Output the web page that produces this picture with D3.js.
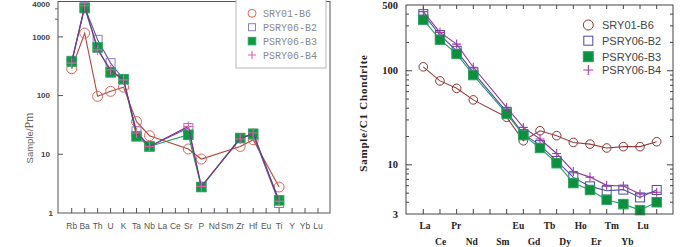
<!DOCTYPE html>
<html>
<head>
<meta charset="utf-8">
<script src="https://cdn.jsdelivr.net/npm/d3@7"></script>
<style>
  body { margin: 0; background: #fff; }
  svg { display: block; }
</style>
</head>
<body>
<div id="chart"></div>
<script>
// ---- data: spider diagram (primitive mantle normalised) ----
const spiderElements = ["Rb","Ba","Th","U","K","Ta","Nb","La","Ce","Sr","P","Nd","Sm","Zr","Hf","Eu","Ti","Y","Yb","Lu"];
const spiderB6 = [286, 1156, 97, 118, 139, 36, 20.7, null, null, 12.3, 8.3, null, null, 13.6, 17.7, null, 2.77, null, null, null];
const spiderB2 = [391, 3200, 890, 357, 190, 24.5, 13.6, null, null, 28, 2.77, null, null, 18.9, 21.5, null, 1.48, null, null, null];
const spiderB3 = [380, 3090, 660, 248, 190, 20.2, 13.6, null, null, 21.5, 2.77, null, null, 18.9, 22.4, null, 1.64, null, null, null];
const spiderB4 = [357, 3380, 600, 275, 185, 23, 13.6, null, null, 29.8, 2.84, null, null, 18.2, 23, null, 1.58, null, null, null];
const spiderTicks = [1, 10, 100, 1000, 4000];

// ---- data: REE pattern (C1 chondrite normalised) ----
const reeElements = ["La","Ce","Pr","Nd","Pm","Sm","Eu","Gd","Tb","Dy","Ho","Er","Tm","Yb","Lu"];
const reeLabels   = ["La","Ce","Pr","Nd","","Sm","Eu","Gd","Tb","Dy","Ho","Er","Tm","Yb","Lu"];
const reeB6 = [110, 78, 65, 49, null, 32, 18, 23, 20.4, 17.3, 16.6, 15.1, 15.6, 15.6, 17.6];
const reeB2 = [400, 240, 163, 96, null, 36.6, 21.2, 16.2, 11, 7.35, 5.9, 5.3, 5.45, 4.5, 5.4];
const reeB3 = [349, 214, 151, 90, null, 35, 20.7, 15.1, 10.4, 6.4, 5.4, 4.25, 3.82, 3.3, 4.0];
const reeB4 = [425, 256, 192, 109, null, 40.7, 25, 18.8, 13.2, 8.5, 7.4, 6.05, 5.95, 4.9, 5.1];
const reeTicks = [3, 10, 100, 500];

const sampleNames = ["SRY01-B6", "PSRY06-B2", "PSRY06-B3", "PSRY06-B4"];

const svg = d3.select("#chart").append("svg")
    .attr("width", 700)
    .attr("height", 247);

// draw one marker of a given kind
function marker(g, kind, x, y, size, color, fill) {
    if (kind === "circle") {
        g.append("circle").attr("cx", x).attr("cy", y).attr("r", size / 2)
            .attr("fill", "none").attr("stroke", color).attr("stroke-width", 1);
    } else if (kind === "square") {
        g.append("rect").attr("x", x - size / 2).attr("y", y - size / 2)
            .attr("width", size).attr("height", size)
            .attr("fill", fill ? color : "none").attr("stroke", fill ? "#2fa060" : color)
            .attr("stroke-width", 1);
    } else {
        g.append("path")
            .attr("d", `M${x - size / 2},${y}H${x + size / 2}M${x},${y - size / 2}V${y + size / 2}`)
            .attr("stroke", color).attr("stroke-width", 1.1);
    }
}

function drawSeries(g, x, y, cats, values, s) {
    let pts = cats.map((c, i) => ({c: c, v: values[i]})).filter(d => d.v != null);
    let line = d3.line().x(d => x(d.c)).y(d => y(d.v));
    g.append("path").datum(pts)
        .attr("d", line)
        .attr("fill", "none")
        .attr("stroke", s.line)
        .attr("stroke-width", 1.1);
    pts.forEach(d => marker(g, s.kind, x(d.c), y(d.v), s.size, s.color, s.fill));
}

// ================= left: spider diagram =================
(function () {
    let L = {left: 58, right: 330, top: 1.5, bottom: 213};
    let x = d3.scalePoint().domain(spiderElements).range([71.7, 318]);
    let y = d3.scaleLog().domain([1, 4000]).range([L.bottom, L.top]);
    let g = svg.append("g").attr("class", "spider");

    let styles = [
        {kind: "circle", size: 10, color: "#e0625a", line: "#b0453a"},
        {kind: "square", size: 9,  color: "#8a80c8", line: "#5e52b5"},
        {kind: "square", size: 9.5, color: "#0d9a45", line: "#169a50", fill: true},
        {kind: "plus",   size: 10, color: "#e060a8", line: "#8a2c90"}
    ];
    [spiderB6, spiderB2, spiderB3, spiderB4].forEach((vals, i) =>
        drawSeries(g, x, y, spiderElements, vals, styles[i]));

    // frame
    g.append("rect").attr("x", L.left).attr("y", L.top)
        .attr("width", L.right - L.left).attr("height", L.bottom - L.top)
        .attr("fill", "none").attr("stroke", "#555").attr("stroke-width", 1);

    // x ticks pointing up
    spiderElements.forEach(c => {
        g.append("line").attr("x1", x(c)).attr("x2", x(c))
            .attr("y1", L.bottom).attr("y2", L.bottom - 5)
            .attr("stroke", "#555");
        g.append("text").attr("x", x(c)).attr("y", 228.5)
            .attr("text-anchor", "middle")
            .attr("font-family", "Arial, 'Liberation Sans', sans-serif")
            .attr("font-size", 8.5).attr("fill", "#555")
            .text(c);
    });

    // y ticks
    spiderTicks.forEach(t => {
        if (t < 4000 && t > 1) {
            g.append("line").attr("x1", L.left).attr("x2", L.left + 5)
                .attr("y1", y(t)).attr("y2", y(t)).attr("stroke", "#555");
        }
        // top label nudged down so it stays inside the page
        let ty = t === 4000 ? 7 : y(t) + 2.8;
        g.append("text").attr("x", t === 1 ? 53 : 50).attr("y", ty)
            .attr("text-anchor", "end")
            .attr("font-family", "Arial, 'Liberation Sans', sans-serif")
            .attr("font-size", 8).attr("font-weight", "bold").attr("fill", "#444")
            .text(t);
    });
    [2000, 3000].forEach(t => {
        g.append("line").attr("x1", L.left - 3).attr("x2", L.left)
            .attr("y1", y(t)).attr("y2", y(t)).attr("stroke", "#666");
    });

    // y label
    let yl = g.append("text")
        .attr("transform", "translate(33,138) rotate(-90)")
        .attr("text-anchor", "middle")
        .attr("fill", "#666");
    yl.append("tspan").attr("font-family", "Arial, 'Liberation Sans', sans-serif")
        .attr("font-size", 9.5).text("Sample/");
    yl.append("tspan").attr("font-family", "'Liberation Serif', 'Times New Roman', serif")
        .attr("font-size", 12).text("Pm");

    // legend
    let lg = g.append("g");
    lg.append("rect").attr("x", 236).attr("y", -1).attr("width", 90).attr("height", 69)
        .attr("fill", "#fff").attr("stroke", "#b8b8b8");
    let legSizes = [8, 7, 7.5, 8];
    sampleNames.forEach((n, i) => {
        let yy = 13.3 + i * 13.9;
        let s = Object.assign({}, styles[i], {size: legSizes[i]});
        marker(lg, s.kind, 252, yy, s.size, s.color, s.fill);
        lg.append("text").attr("x", 263).attr("y", yy + 3.5)
            .attr("font-family", "'Liberation Mono', 'Courier New', monospace")
            .attr("font-size", 10).attr("fill", "#888")
            .text(n);
    });
})();

// ================= right: REE pattern =================
(function () {
    let R = {left: 406, right: 673, top: 5, bottom: 214};
    let x = d3.scalePoint().domain(reeElements).range([423.3, 656.7]);
    // tick labels in the source sit on a slightly tighter spacing than the points
    let xLab = d3.scalePoint().domain(reeElements).range([425, 643]);
    let y = d3.scaleLog().domain([3, 500]).range([R.bottom, R.top]);
    let g = svg.append("g").attr("class", "ree");

    let styles = [
        {kind: "circle", size: 8.6, color: "#8e3434", line: "#9a3c3c"},
        {kind: "square", size: 9,   color: "#4b4ba5", line: "#4b4ba5"},
        {kind: "square", size: 9.5, color: "#0c9040", line: "#2a9a6a", fill: true},
        {kind: "plus",   size: 9,   color: "#a03aa8", line: "#8e3a9c"}
    ];
    [reeB6, reeB2, reeB3, reeB4].forEach((vals, i) =>
        drawSeries(g, x, y, reeElements, vals, styles[i]));

    g.append("rect").attr("x", R.left).attr("y", R.top)
        .attr("width", R.right - R.left).attr("height", R.bottom - R.top)
        .attr("fill", "none").attr("stroke", "#444").attr("stroke-width", 1);

    // x ticks on bottom and top
    reeElements.forEach((c, i) => {
        g.append("line").attr("x1", x(c)).attr("x2", x(c))
            .attr("y1", R.bottom).attr("y2", R.bottom - 5).attr("stroke", "#444");
        g.append("line").attr("x1", x(c)).attr("x2", x(c))
            .attr("y1", R.top).attr("y2", R.top + 4).attr("stroke", "#444");
        g.append("text").attr("x", xLab(c)).attr("y", i % 2 === 0 ? 228.5 : 244.5)
            .attr("text-anchor", "middle")
            .attr("font-family", "'Liberation Serif', 'Times New Roman', serif")
            .attr("font-weight", "bold").attr("font-size", 9.5).attr("fill", "#222")
            .text(reeLabels[i]);
    });

    // y ticks (left and right, inside)
    let minor = [];
    [1, 10, 100].forEach(d => d3.range(2, 10).forEach(k => {
        let v = d * k;
        if (v > 3 && v < 500 && v !== 10 && v !== 100) minor.push(v);
    }));
    minor.forEach(v => {
        g.append("line").attr("x1", R.left).attr("x2", R.left + 3)
            .attr("y1", y(v)).attr("y2", y(v)).attr("stroke", "#444");
        g.append("line").attr("x1", R.right).attr("x2", R.right - 3)
            .attr("y1", y(v)).attr("y2", y(v)).attr("stroke", "#444");
    });
    [10, 100].forEach(v => {
        g.append("line").attr("x1", R.left).attr("x2", R.left + 6)
            .attr("y1", y(v)).attr("y2", y(v)).attr("stroke", "#444");
        g.append("line").attr("x1", R.right).attr("x2", R.right - 6)
            .attr("y1", y(v)).attr("y2", y(v)).attr("stroke", "#444");
    });
    reeTicks.forEach(t => {
        g.append("text").attr("x", 398).attr("y", y(t) + 3.5)
            .attr("text-anchor", "end")
            .attr("font-family", "'Liberation Serif', 'Times New Roman', serif")
            .attr("font-weight", "bold").attr("font-size", 10.5).attr("fill", "#222")
            .text(t);
    });

    g.append("text")
        .attr("transform", "translate(367,113) rotate(-90)")
        .attr("text-anchor", "middle")
        .attr("font-family", "'Liberation Serif', 'Times New Roman', serif")
        .attr("font-weight", "bold").attr("font-size", 11)
        .attr("letter-spacing", 0.8).attr("fill", "#222")
        .text("Sample/C1 Chondrite");

    // legend (no box)
    let legSizes = [10, 9, 10, 10];
    let legY = [25, 40.7, 56.7, 70];
    sampleNames.forEach((n, i) => {
        let s = Object.assign({}, styles[i], {size: legSizes[i]});
        marker(g, s.kind, 588.3, legY[i], s.size, s.color, s.fill);
        g.append("text").attr("x", 602).attr("y", legY[i] + 4)
            .attr("font-family", "Arial, 'Liberation Sans', sans-serif")
            .attr("font-size", 11).attr("fill", "#444")
            .text(n);
    });
})();
</script>
</body>
</html>
